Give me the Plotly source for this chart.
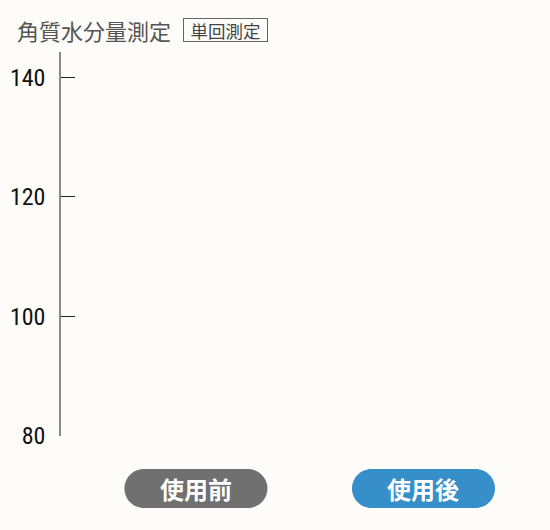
import plotly.graph_objects as go

# ---- data ----
categories = ["使用前", "使用後"]
values = [None, None]          # no bars are drawn in the reference image
y_tick_values = [80, 100, 120, 140]
y_tick_labels = ["80", "100", "120", "140"]
title_text = "角質水分量測定"
badge_text = "単回測定"
pill_colors = ["#707070", "#378fc9"]

W, H = 550, 530
ML, MR, MT, MB = 59, 10, 52, 94
PW = W - ML - MR
PH = H - MT - MB
BG = "#fdfcf9"

def px_to_paper_x(px):
    return (px - ML) / PW

def px_to_paper_y(py):
    return (H - MB - py) / PH

fig = go.Figure()
fig.add_trace(go.Bar(x=categories, y=values, marker_color=pill_colors,
                     showlegend=False, hoverinfo="skip"))

# pill shapes behind category labels (pixel-sized, anchored on category)
pill_w, pill_h = 143, 39
r = pill_h / 2
k = 0.5523 * r
hw = pill_w / 2
path = (f"M {-hw + r},{-r} L {hw - r},{-r} "
        f"C {hw - r + k},{-r} {hw},{-k} {hw},0 "
        f"C {hw},{k} {hw - r + k},{r} {hw - r},{r} "
        f"L {-hw + r},{r} "
        f"C {-hw + r - k},{r} {-hw},{k} {-hw},0 "
        f"C {-hw},{-k} {-hw + r - k},{-r} {-hw + r},{-r} Z")
pill_y = px_to_paper_y(488.5)
for i, cat in enumerate(categories):
    fig.add_shape(type="path", xref="x", yref="paper",
                  xsizemode="pixel", ysizemode="pixel",
                  xanchor=i, yanchor=pill_y, path=path,
                  fillcolor=pill_colors[i], line=dict(width=0), layer="above")
    fig.add_annotation(x=cat, xref="x", y=pill_y, yref="paper",
                       text=f"<b>{cat}</b>", showarrow=False,
                       font=dict(family="Noto Sans CJK JP", size=24, color="white"),
                       xanchor="center", yanchor="middle")

# title + badge
fig.add_annotation(x=px_to_paper_x(13), y=px_to_paper_y(30), xref="paper", yref="paper",
                   text=title_text, showarrow=False, xanchor="left", yanchor="middle",
                   font=dict(family="Noto Sans CJK JP", size=22, color="#555555"))
fig.add_annotation(x=px_to_paper_x(224.5), y=px_to_paper_y(30), xref="paper", yref="paper",
                   text=badge_text, showarrow=False, xanchor="center", yanchor="middle",
                   width=81, height=20, borderpad=1, borderwidth=1, bordercolor="#666666",
                   font=dict(family="Noto Sans CJK JP", size=17.5, color="#444444"))

# x-range chosen so the category centres sit where the pills are
c0, c1 = 194.5, 423
unit = c1 - c0
xr0 = -(c0 - ML) / unit
xr1 = (W - MR - c0) / unit

fig.update_layout(
    width=W, height=H,
    margin=dict(l=ML, r=MR, t=MT, b=MB),
    paper_bgcolor=BG, plot_bgcolor=BG,
    xaxis=dict(range=[xr0, xr1], showticklabels=False, showgrid=False,
               zeroline=False, showline=False, ticks=""),
    yaxis=dict(range=[80, 144.2], tickvals=y_tick_values, ticktext=y_tick_labels,
               showgrid=False, zeroline=False, showline=True, linecolor="#8a8a8a",
               linewidth=1.5, ticks="inside", ticklen=14, tickwidth=1, tickcolor="#222222",
               ticklabelstandoff=9,
               tickfont=dict(family="Liberation Sans Narrow, Roboto Condensed, Roboto",
                             size=24, color="#111111")),
    bargap=0.4,
)

fig.write_html(
    "out.html",
    config={"displayModeBar": False},
    post_script=f"document.body.style.margin='0';document.body.style.background='{BG}';",
)
